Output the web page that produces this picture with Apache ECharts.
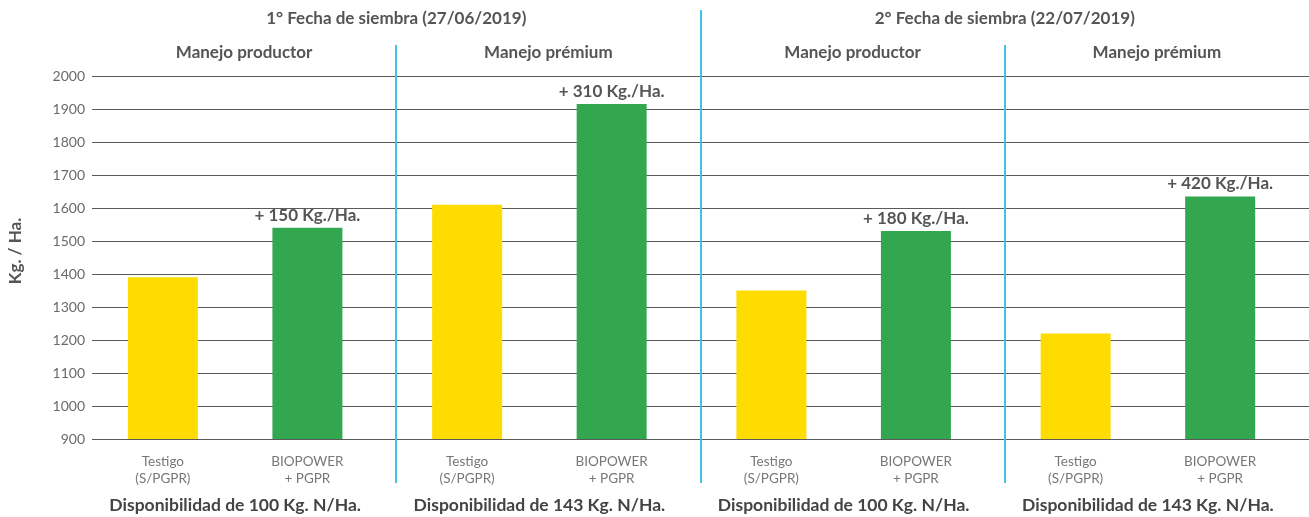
<!DOCTYPE html>
<html>
<head>
<meta charset="utf-8">
<script src="https://cdn.jsdelivr.net/npm/echarts@6/dist/echarts.min.js"></script>
<style>
    html, body { margin: 0; padding: 0; background: #fff; }
    #main { width: 1309px; height: 517px; }
</style>
</head>
<body>
<div id="main"></div>
<script>
    // datos del ensayo
    var fechas = ['1° Fecha de siembra (27/06/2019)', '2° Fecha de siembra (22/07/2019)'];
    var manejos = ['Manejo productor', 'Manejo prémium', 'Manejo productor', 'Manejo prémium'];
    var disponibilidad = ['Disponibilidad de 100 Kg. N/Ha.', 'Disponibilidad de 143 Kg. N/Ha.',
                          'Disponibilidad de 100 Kg. N/Ha.', 'Disponibilidad de 143 Kg. N/Ha.'];
    var tratamientos = ['Testigo\n(S/PGPR)', 'BIOPOWER\n+ PGPR'];
    var testigo = [1390, 1610, 1350, 1220];
    var biopower = [1540, 1915, 1530, 1635];
    var diferencia = ['+ 150 Kg./Ha.', '+ 310 Kg./Ha.', '+ 180 Kg./Ha.', '+ 420 Kg./Ha.'];
    var yMin = 900, yMax = 2000, yStep = 100;

    var FONT = 'Lato';
    var AMARILLO = '#FEDC00';
    var VERDE = '#33A750';
    var CELESTE = '#3EC3EA';
    // posicion de cada barra dentro del bloque
    var posTestigo = 0.233, posBio = 0.708;

    var barData = [];
    for (var i = 0; i < testigo.length; i++) {
        barData.push({ value: [i + posTestigo, testigo[i]], itemStyle: { color: AMARILLO } });
        barData.push({
            value: [i + posBio, biopower[i]],
            itemStyle: { color: VERDE },
            label: { show: true, formatter: diferencia[i] }
        });
    }

    var myChart = echarts.init(document.getElementById('main'));

    var option = {
        animation: false,
        grid: { left: 92, top: 76, width: 1220, bottom: 78, containLabel: false },
        xAxis: {
            type: 'value', min: 0, max: 4,
            axisLine: { show: false },
            axisTick: { show: false },
            axisLabel: { show: false },
            splitLine: { show: false }
        },
        yAxis: {
            type: 'value', min: yMin, max: yMax, interval: yStep,
            axisLine: { show: false },
            axisTick: { show: false },
            axisLabel: {
                color: '#6a6a6a', fontSize: 14, fontFamily: FONT, margin: 7,
                formatter: function (v) { return String(v); }
            },
            splitLine: { lineStyle: { color: '#5a5a5a', width: 1 } }
        },
        series: [{
            type: 'bar',
            barWidth: 70,
            data: barData,
            label: {
                show: false,
                position: 'top',
                distance: 4,
                color: '#555',
                fontSize: 17,
                fontWeight: 'bold',
                fontFamily: FONT
            }
        }]
    };
    myChart.setOption(option);

    // textos y separadores
    function px(x, y) {
        return myChart.convertToPixel({ gridIndex: 0 }, [x, y]);
    }
    var g = [];
    [1, 2, 3].forEach(function (d) {
        var x = Math.round(px(d, yMin)[0]);
        g.push({
            type: 'line',
            shape: { x1: x, y1: d === 2 ? 10 : 45, x2: x, y2: 483 },
            style: { stroke: CELESTE, lineWidth: 2 }
        });
    });
    fechas.forEach(function (t, k) {
        g.push({
            type: 'text', x: px(1 + 2 * k, yMin)[0], y: 19,
            style: { text: t, fill: '#555', font: 'bold 17px ' + FONT, align: 'center', verticalAlign: 'middle' }
        });
    });
    manejos.forEach(function (t, k) {
        g.push({
            type: 'text', x: px(k + 0.5, yMin)[0], y: 53,
            style: { text: t, fill: '#555', font: 'bold 17px ' + FONT, align: 'center', verticalAlign: 'middle' }
        });
    });
    disponibilidad.forEach(function (t, k) {
        g.push({
            type: 'text', x: px(k + (posTestigo + posBio) / 2, yMin)[0], y: 505,
            style: { text: t, fill: '#444', font: 'bold 17.5px ' + FONT, align: 'center', verticalAlign: 'middle' }
        });
    });
    for (var k = 0; k < 4; k++) {
        [posTestigo, posBio].forEach(function (p, j) {
            g.push({
                type: 'text', x: px(k + p, yMin)[0], y: 470,
                style: { text: tratamientos[j], fill: '#777', font: '13.5px ' + FONT, align: 'center',
                         verticalAlign: 'middle', lineHeight: 17 }
            });
        });
    }
    g.push({
        type: 'text', x: 16, y: 251, rotation: Math.PI / 2,
        style: { text: 'Kg. / Ha.', fill: '#555', font: 'bold 17px ' + FONT, align: 'center', verticalAlign: 'middle' }
    });
    myChart.setOption({ graphic: g });
</script>
</body>
</html>
